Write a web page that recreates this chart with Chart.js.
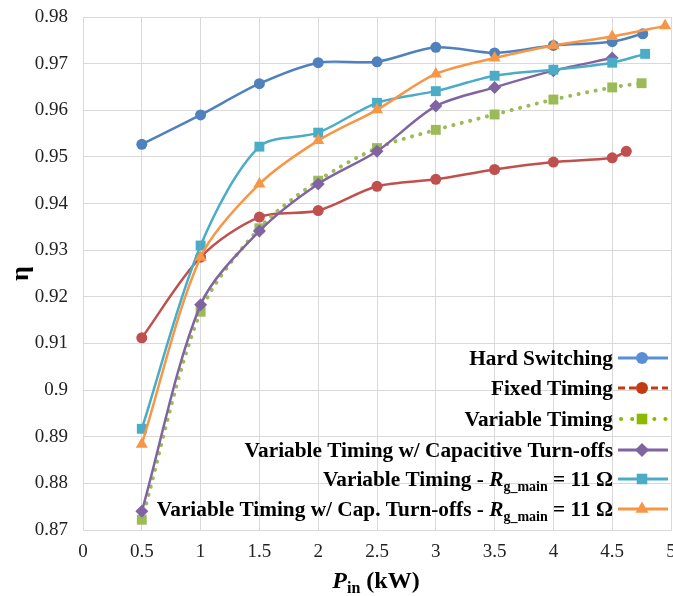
<!DOCTYPE html>
<html>
<head>
<meta charset="utf-8">
<script src="https://cdn.jsdelivr.net/npm/chart.js@4/dist/chart.umd.min.js"></script>
<style>
  html, body { margin: 0; padding: 0; background: #fff; }
  canvas { display: block; }
</style>
</head>
<body>
<canvas id="effChart" width="673" height="596"></canvas>
<script>
// P_in (kW) and efficiency for each measurement series
const pinHard = [0.5, 1, 1.5, 2, 2.5, 3, 3.5, 4, 4.5, 4.76];
const etaHard = [0.9527, 0.9590, 0.9657, 0.9702, 0.9704, 0.9735, 0.9723, 0.9739, 0.9747, 0.9764];

const pinFixed = [0.5, 1, 1.5, 2, 2.5, 3, 3.5, 4, 4.5, 4.62];
const etaFixed = [0.9112, 0.9285, 0.9371, 0.9385, 0.9437, 0.9452, 0.9473, 0.9489, 0.9498, 0.9512];

const pinVar = [0.5, 1, 1.5, 2, 2.5, 3, 3.5, 4, 4.5, 4.75];
const etaVar = [0.8722, 0.9168, 0.9347, 0.9449, 0.9519, 0.9558, 0.9591, 0.9623, 0.9649, 0.9658];

const pinVarCap = [0.5, 1, 1.5, 2, 2.5, 3, 3.5, 4, 4.5];
const etaVarCap = [0.8740, 0.9183, 0.9341, 0.9442, 0.9512, 0.9609, 0.9649, 0.9685, 0.9712];

const pinVarRg = [0.5, 1, 1.5, 2, 2.5, 3, 3.5, 4, 4.5, 4.78];
const etaVarRg = [0.8917, 0.9310, 0.9522, 0.9552, 0.9616, 0.9641, 0.9674, 0.9687, 0.9702, 0.9721];

const pinVarCapRg = [0.5, 1, 1.5, 2, 2.5, 3, 3.5, 4, 4.5, 4.95];
const etaVarCapRg = [0.8884, 0.9285, 0.9442, 0.9535, 0.9601, 0.9678, 0.9712, 0.9739, 0.9758, 0.9781];

// "@" marks where the italic R with subscript g_main goes
const seriesNames = [
  "Hard Switching",
  "Fixed Timing",
  "Variable Timing",
  "Variable Timing w/ Capacitive Turn-offs",
  "Variable Timing - @ = 11 Ω",
  "Variable Timing w/ Cap. Turn-offs - @ = 11 Ω"
];

const xMin = 0, xMax = 5, xStep = 0.5;
const yMin = 0.87, yMax = 0.98, yStep = 0.01;

const SERIF = '"Liberation Serif", "Times New Roman", serif';

const lineColors = ["#4f81bd", "#c0504d", "#9bbb59", "#8064a2", "#4bacc6", "#f79646"];
const legendColors = ["#5a8fd6", "#c23b12", "#8cb800", "#8064a2", "#4bacc6", "#f79646"];
const markerStyles = ["circle", "circle", "rect", "rectRot", "rect", "triangle"];
const markerSizes = [5.5, 5.5, 7, 6.5, 7, 7];

function toPoints(xs, ys) {
  return xs.map((x, i) => ({ x, y: ys[i] }));
}

const seriesData = [
  toPoints(pinHard, etaHard),
  toPoints(pinFixed, etaFixed),
  toPoints(pinVar, etaVar),
  toPoints(pinVarCap, etaVarCap),
  toPoints(pinVarRg, etaVarRg),
  toPoints(pinVarCapRg, etaVarCapRg)
];

const datasets = seriesData.map((data, i) => ({
  label: seriesNames[i].replace("@", "Rg_main"),
  data,
  borderColor: lineColors[i],
  backgroundColor: lineColors[i],
  pointBackgroundColor: lineColors[i],
  pointBorderColor: lineColors[i],
  pointBorderWidth: 0,
  pointStyle: markerStyles[i],
  pointRadius: markerSizes[i],
  borderWidth: i === 2 ? 4 : 2.5,
  borderDash: i === 2 ? [0.1, 8.5] : [],
  borderCapStyle: i === 2 ? "round" : "butt",
  tension: 0.3,
  clip: false,
  order: 5 - i
}));

function fmt(v) {
  return String(Number(v.toFixed(2)));
}

function nameParts(name) {
  const bold = `bold 21.3px ${SERIF}`;
  const pieces = name.split("@");
  if (pieces.length === 1) return [{ text: name, font: bold }];
  return [
    { text: pieces[0], font: bold },
    { text: "R", font: `italic bold 21.3px ${SERIF}` },
    { text: "g_main", font: `bold 14px ${SERIF}`, dy: 5 },
    { text: pieces[1], font: bold }
  ];
}

function drawRich(ctx, parts, x, baseY, align) {
  let width = 0;
  parts.forEach((p) => { ctx.font = p.font; width += ctx.measureText(p.text).width; });
  let cx = align === "right" ? x - width : x - width / 2;
  parts.forEach((p) => {
    ctx.font = p.font;
    ctx.fillText(p.text, cx, baseY + (p.dy || 0));
    cx += ctx.measureText(p.text).width;
  });
}

const legendRows = [358, 388, 419, 450, 479, 509];

const overlayPlugin = {
  id: "overlay",
  afterDraw(chart) {
    const ctx = chart.ctx;
    const area = chart.chartArea;
    ctx.save();
    ctx.fillStyle = "#000";
    ctx.textAlign = "left";
    ctx.textBaseline = "alphabetic";

    // legend: right aligned names, sample line + marker to the right
    const textRight = 613;
    const lineL = 618, lineR = 668;
    seriesNames.forEach((name, i) => {
      const y = legendRows[i];
      ctx.fillStyle = "#000";
      drawRich(ctx, nameParts(name), textRight, y + 7, "right");

      ctx.save();
      ctx.strokeStyle = legendColors[i];
      ctx.lineWidth = i === 2 ? 4 : 3;
      if (i === 1) ctx.setLineDash([7, 4]);
      if (i === 2) { ctx.setLineDash([0.1, 11]); ctx.lineCap = "round"; }
      ctx.beginPath();
      ctx.moveTo(i === 2 ? lineL + 3 : lineL, y);
      ctx.lineTo(lineR, y);
      ctx.stroke();
      ctx.restore();

      ctx.save();
      ctx.fillStyle = legendColors[i];
      ctx.strokeStyle = legendColors[i];
      Chart.helpers.drawPoint(ctx, {
        pointStyle: markerStyles[i],
        radius: markerSizes[i] + 0.5,
        rotation: 0,
        borderWidth: 0
      }, 642, y);
      ctx.restore();
    });

    // x axis title: P_in (kW)
    ctx.fillStyle = "#000";
    drawRich(ctx, [
      { text: "P", font: `italic bold 24px ${SERIF}` },
      { text: "in", font: `bold 16px ${SERIF}`, dy: 5 },
      { text: " (kW)", font: `bold 24px ${SERIF}` }
    ], (area.left + area.right) / 2 - 1, 588, "center");
    ctx.restore();
  }
};

new Chart(document.getElementById("effChart"), {
  type: "line",
  data: { datasets },
  options: {
    responsive: false,
    animation: false,
    devicePixelRatio: 1,
    layout: { autoPadding: false, padding: { top: 17, right: 2, left: 0, bottom: 0 } },
    plugins: {
      legend: { display: false },
      tooltip: { enabled: false }
    },
    scales: {
      x: {
        type: "linear",
        min: xMin,
        max: xMax,
        grid: { color: "#d9d9d9", lineWidth: 1, drawTicks: false },
        border: { color: "#d9d9d9", width: 1 },
        ticks: {
          stepSize: xStep,
          padding: 11,
          color: "#222",
          font: { family: SERIF, size: 19 },
          maxRotation: 0,
          autoSkip: false,
          callback: (v) => fmt(v)
        },
        afterFit(scale) {
          scale.height = 66;
          scale.paddingLeft = 0;
          scale.paddingRight = 0;
        }
      },
      y: {
        type: "linear",
        min: yMin,
        max: yMax,
        grid: { color: "#d9d9d9", lineWidth: 1, drawTicks: false },
        border: { color: "#d9d9d9", width: 1 },
        ticks: {
          stepSize: yStep,
          padding: 15,
          color: "#222",
          font: { family: SERIF, size: 19 },
          autoSkip: false,
          callback: (v) => fmt(v)
        },
        title: {
          display: true,
          text: "η",
          color: "#000",
          font: { family: SERIF, size: 26, weight: "bold" },
          padding: { top: 6, bottom: 0 }
        },
        afterFit(scale) {
          scale.width = 83;
          scale.paddingTop = 0;
          scale.paddingBottom = 0;
        }
      }
    }
  },
  plugins: [overlayPlugin]
});
</script>
</body>
</html>
